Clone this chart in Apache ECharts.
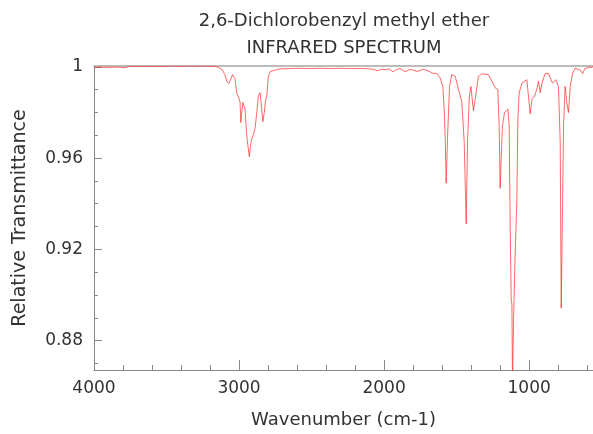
<!DOCTYPE html>
<html>
<head>
<meta charset="utf-8">
<script src="https://cdn.jsdelivr.net/npm/echarts@6/dist/echarts.min.js"></script>
<style>
html,body{margin:0;padding:0;background:#fff;overflow:hidden;}
#chart{width:593px;height:434px;}
</style>
</head>
<body>
<div id="chart"></div>
<script>
var titleLines = ['2,6-Dichlorobenzyl methyl ether', 'INFRARED SPECTRUM'];
var xAxisName = 'Wavenumber (cm-1)';
var yAxisName = 'Relative Transmittance';
var xMajorTicks = [4000, 3000, 2000, 1000];
var xMinorTicks = [3800, 3600, 3400, 3200, 2800, 2600, 2400, 2200, 1800, 1600, 1400, 1200, 800, 600];
var yMajorTicks = [0.88, 0.92, 0.96, 1];
var yMinorTicks = [0.87, 0.89, 0.90, 0.91, 0.93, 0.94, 0.95, 0.97, 0.98, 0.99];

var wavenumber = [4000,3950,3890,3840,3786,3752,3700,3614,3550,3476,3400,3338,3280,3234,3190,3166,
  3143,3119,3108,3097,3085,3071,3059,3045,3038,3028,3016,3000,2993,2988,2983,2974,2959,2947,2938,2929,2920,2912,2900,2890,2878,2867,2855,2845,2836,2832,2826,2818,2809,2798,2786,2774,2720,2648,
  2579,2500,2441,2370,2303,2230,2166,2110,2076,2048,2020,1993,1965,1938,1915,1890,1855,1821,1800,1772,1731,1697,1669,1634,1614,1595,1586,1579,1572,1563,1556,1549,1533,1510,1488,1464,1448,1434,1425,1412,1402,1384,1366,1350,1326,1281,1257,1234,1216,1207,1200,1193,1184,1170,1147,1138,1131,1124,1119,1115,1108,1097,1085,1078,1069,1050,1016,1005,993,981,963,947,936,924,912,890,867,839,816,798,786,779,770,763,752,740,729,717,701,683,648,632,614,580,560];
var transmittance = [0.9998,0.9999,0.9998,0.9999,0.9997,1.0003,1.0002,1.0003,1.0002,1.0004,1.0003,1.0004,1.0003,1.0004,1.0003,1.0003,
  0.9998,0.9990,0.9984,0.9966,0.9937,0.9927,0.9943,0.9966,0.9965,0.9948,0.9887,0.9860,0.9845,0.9756,0.9790,0.9844,0.9815,0.9700,0.9650,0.9607,0.9660,0.9686,0.9705,0.9729,0.9800,0.9872,0.9887,0.9820,0.9760,0.9756,0.9800,0.9850,0.9872,0.9958,0.9980,0.9987,0.9991,0.9993,
  0.9994,0.9993,0.9994,0.9993,0.9994,0.9993,0.9993,0.9992,0.9990,0.9983,0.9990,0.9988,0.9991,0.9978,0.9989,0.9993,0.9979,0.9989,0.9986,0.9980,0.9989,0.9983,0.9973,0.9970,0.9952,0.9914,0.9815,0.9693,0.9490,0.9686,0.9802,0.9914,0.9966,0.9959,0.9903,0.9845,0.9673,0.9312,0.9673,0.9872,0.9914,0.9808,0.9886,0.9958,0.9970,0.9966,0.9937,0.9908,0.9901,0.9742,0.9468,0.9600,0.9742,0.9800,0.9815,0.9742,0.9312,0.8983,0.8960,0.8620,0.8882,0.9170,0.9415,0.9772,0.9886,0.9929,0.9944,0.9872,0.9794,0.9857,0.9872,0.9903,0.9937,0.9886,0.9929,0.9971,0.9971,0.9929,0.9944,0.9914,0.9673,0.8942,0.9398,0.9742,0.9914,0.9842,0.9800,0.9914,0.9971,0.9994,0.9987,0.9971,0.9994,0.9998,1.0000];

var spectrum = wavenumber.map(function (w, i) { return [w, transmittance[i]]; });

var FONT = 'DejaVu Sans';
var FS = 17;
var TEXT = '#333';
var xMin = 560, xMax = 4000, yMin = 0.8671, yMax = 1.0004;
function plain(v) { return String(Math.round(v * 10000) / 10000); }

var chart = echarts.init(document.getElementById('chart'), null, {renderer: 'canvas'});
chart.setOption({
  animation: false,
  backgroundColor: '#ffffff',
  graphic: [
    {type: 'text', x: 344, y: 21, style: {text: titleLines[0], font: '18px "' + FONT + '"', fill: TEXT, textAlign: 'center', textVerticalAlign: 'middle'}},
    {type: 'text', x: 344, y: 48, style: {text: titleLines[1], font: '18px "' + FONT + '"', fill: TEXT, textAlign: 'center', textVerticalAlign: 'middle'}}
  ],
  grid: {left: 94, right: 0, top: 66, bottom: 58, containLabel: false},
  xAxis: [
    {
      type: 'value', inverse: true, min: xMin, max: xMax, position: 'bottom',
      name: xAxisName, nameLocation: 'middle', nameGap: 41,
      nameTextStyle: {fontFamily: FONT, fontSize: 18, color: TEXT},
      axisLine: {show: true, lineStyle: {color: '#888', width: 1}},
      axisTick: {show: true, inside: true, length: 10, lineStyle: {color: '#888'}, customValues: xMajorTicks},
      axisLabel: {show: true, margin: 10, fontFamily: FONT, fontSize: FS, color: TEXT, customValues: xMajorTicks, formatter: plain},
      splitLine: {show: false}
    },
    {
      type: 'value', inverse: true, min: xMin, max: xMax, position: 'bottom',
      axisLine: {show: false},
      axisTick: {show: true, inside: true, length: 5, lineStyle: {color: '#888'}, customValues: xMinorTicks},
      axisLabel: {show: false},
      splitLine: {show: false}
    },
    {
      type: 'value', inverse: true, min: xMin, max: xMax, position: 'top',
      axisLine: {show: true, lineStyle: {color: '#bbb', width: 2}},
      axisTick: {show: false}, axisLabel: {show: false}, splitLine: {show: false}
    }
  ],
  yAxis: [
    {
      type: 'value', min: yMin, max: yMax, position: 'left',
      name: yAxisName, nameLocation: 'middle', nameGap: 64,
      nameTextStyle: {fontFamily: FONT, fontSize: 19, color: TEXT},
      axisLine: {show: true, lineStyle: {color: '#888', width: 1}},
      axisTick: {show: true, inside: true, length: 8, lineStyle: {color: '#888'}, customValues: yMajorTicks},
      axisLabel: {show: true, margin: 11, padding: [5, 0, 0, 0], fontFamily: FONT, fontSize: FS, color: TEXT, customValues: yMajorTicks, formatter: plain},
      splitLine: {show: false}
    },
    {
      type: 'value', min: yMin, max: yMax, position: 'left',
      axisLine: {show: false},
      axisTick: {show: true, inside: true, length: 4, lineStyle: {color: '#888'}, customValues: yMinorTicks},
      axisLabel: {show: false},
      splitLine: {show: false}
    }
  ],
  series: [{
    type: 'line', xAxisIndex: 0, yAxisIndex: 0, data: spectrum,
    showSymbol: false, symbol: 'none', smooth: false, clip: true,
    lineStyle: {color: 'rgba(255,40,40,0.7)', width: 1}
  }]
});
</script>
</body>
</html>
